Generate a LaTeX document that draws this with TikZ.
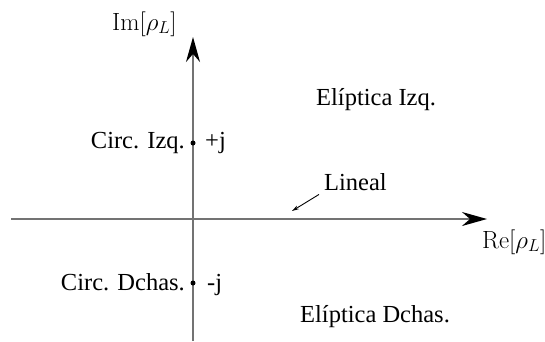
\documentclass[tikz,border=0pt]{standalone}
\usepackage[no-math]{fontspec}
\setmainfont{Liberation Serif}
\usetikzlibrary{arrows.meta}
\begin{document}
\begin{tikzpicture}[x=1pt,y=-1pt,
  axis/.style={draw=black!55,line width=1.5pt,-{Stealth[length=25pt,width=14pt,inset=8pt,color=black]}},
  lbl/.style={inner sep=0pt,font=\fontsize{24.5}{29}\selectfont},
  dotn/.style={circle,fill=black,inner sep=0pt,minimum size=5pt}]
\useasboundingbox (0,0) rectangle (545,341);
\coordinate (xs) at (11,219);
\coordinate (xe) at (487,219);
\coordinate (ys) at (193,341);
\coordinate (ye) at (193,37);
\draw[axis] (xs) -- (xe);
\draw[axis] (ys) -- (ye);
\node[lbl,anchor=base west] (im) at (112,30) {$\mathrm{Im}[\rho_L]$};
\node[lbl,anchor=base west] (re) at (482,248) {$\mathrm{Re}[\rho_L]$};
\node[dotn] (p) at (193,143) {};
\node[dotn] (m) at (193,283) {};
\node[lbl,anchor=base east] (ci) at (185,148) {Circ. Izq.};
\node[lbl,anchor=base west] (pj) at (205,148) {+j};
\node[lbl,anchor=base east] (cd) at (185,290) {Circ. Dchas.};
\node[lbl,anchor=base west] (mj) at (207,290) {-j};
\node[lbl,anchor=base west] (ei) at (316,105) {Elíptica Izq.};
\node[lbl,anchor=base west] (ed) at (300,322) {Elíptica Dchas.};
\node[lbl,anchor=base west] (li) at (324,190) {Lineal};
\coordinate (la) at (292,211);
\draw[line width=0.9pt,-{Stealth[length=7pt,width=4pt]}] (li.south west) ++(-5,4) coordinate (lb) (lb) -- (la);
\end{tikzpicture}
\end{document}
